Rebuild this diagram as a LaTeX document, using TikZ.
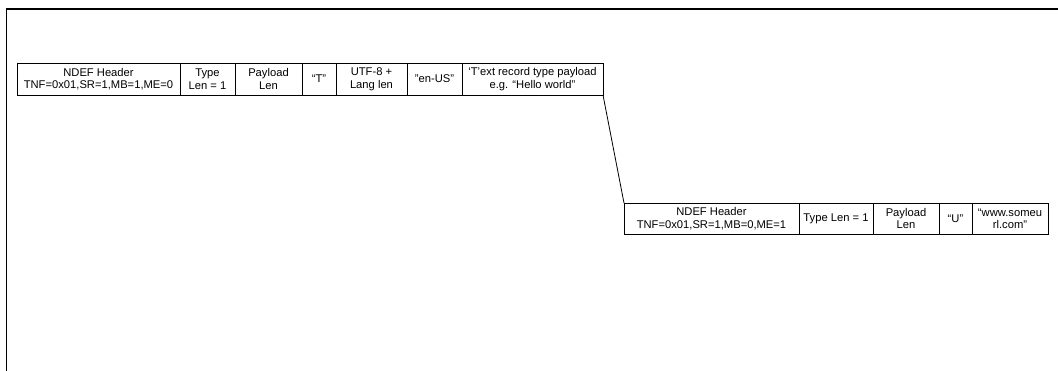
\documentclass[tikz,border=0pt]{standalone}
\usepackage{fontspec}
\setmainfont{Liberation Sans}
\begin{document}
\begin{tikzpicture}[x=0.75pt,y=-0.75pt,
  cell/.style 2 args={draw=black, line width=0.6pt, inner sep=0pt, outer sep=0pt,
    anchor=north west, align=center, minimum width={#1*0.75pt}, minimum height={#2*0.75pt},
    font=\fontsize{8.4}{9.4}\selectfont},
  frame/.style={draw=black, line width=1.1pt},
  link/.style={draw=black, line width=0.6pt}]
\useasboundingbox (0,0) rectangle (1058,371);
\draw[frame] (6.5,371) -- (6.5,9) -- (1058,9);
% row 1
\node[cell={163}{32}] (a1) at (17,63) {NDEF Header\\TNF=0x01,SR=1,MB=1,ME=0};
\node[cell={55}{32}] (a2) at (180,63) {Type\\Len = 1};
\node[cell={67}{32}] (a3) at (235,63) {Payload\\Len};
\node[cell={34}{32}] (a4) at (302,63) {“T”};
\node[cell={71}{32}] (a5) at (336,63) {UTF-8 +\\Lang len};
\node[cell={55}{32}] (a6) at (407,63) {"en-US"};
\node[cell={141}{32}] (a7) at (462,63) {‘T’ext record type payload\\e.g. “Hello world”};
% row 2
\node[cell={175}{31}] (b1) at (624,203) {NDEF Header\\TNF=0x01,SR=1,MB=0,ME=1};
\node[cell={74}{31}] (b2) at (799,203) {Type Len = 1};
\node[cell={66}{31}] (b3) at (873,203) {Payload\\Len};
\node[cell={33}{31}] (b4) at (939,203) {“U”};
\node[cell={76}{31}] (b5) at (972,203) {“www.someu\\rl.com”};
\draw[link] (a7.south east) -- (b1.north west);
\end{tikzpicture}
\end{document}
